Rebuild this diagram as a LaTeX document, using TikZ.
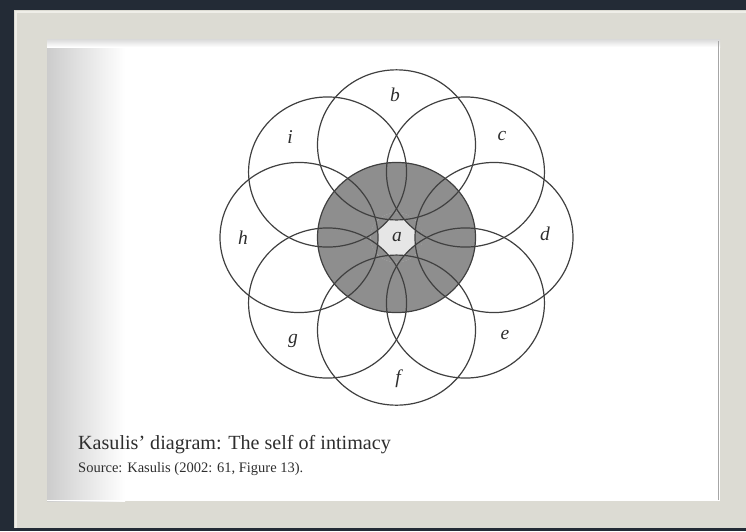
\documentclass[tikz,border=0pt]{standalone}
\usepackage{fontspec}
\setmainfont{Liberation Serif}
\definecolor{bgdark}{HTML}{232B36}
\definecolor{framec}{HTML}{DCDBD3}
\definecolor{framehi}{HTML}{EFEEE8}
\definecolor{ringc}{HTML}{404040}
\definecolor{coregray}{HTML}{8E8E8E}
\definecolor{corelight}{HTML}{E6E6E6}
\definecolor{textc}{HTML}{2E2E2E}
\tikzset{
  ring/.style={draw=ringc, line width=1.2pt},
  lbl/.style={font=\fontsize{19.5}{20}\selectfont\itshape, text=textc, inner sep=0pt},
  captionmain/.style={font=\fontsize{20.1}{22}\selectfont, text=textc, anchor=base west, inner sep=0pt},
  captionsrc/.style={font=\fontsize{14.5}{16}\selectfont, text=textc, anchor=base west, inner sep=0pt}
}
\begin{document}
\begin{tikzpicture}[x=1pt,y=-1pt]
\useasboundingbox (0,0) rectangle (746,531);
% background and frame
\fill[bgdark] (0,0) rectangle (746,531);
\fill[framec] (14,10) rectangle (746,528);
\draw[framehi, line width=1.5pt] (16,528) -- (16,12) -- (746,12);
\fill[white] (47,39) rectangle (720,501);
\shade[left color=black!20, middle color=black!5, right color=white] (47,39) rectangle (125,501);
\shade[top color=black!15, bottom color=white] (47,39) rectangle (720,47);
\draw[black!35, line width=1pt] (718.5,41) -- (718.5,501);
\draw[white, line width=1pt] (47,500.5) -- (720,500.5);
% diagram
\begin{scope}[shift={(396.5,237.5)}, yscale=0.95]
  \coordinate (ca) at (0,0);
  \foreach \n/\ang in {b/90,c/45,d/0,e/-45,f/-90,g/-135,h/180,i/135}{
    \coordinate (c\n) at (\ang:97.5pt);
  }
  \fill[coregray] (ca) circle (79pt);
  \begin{scope}
    \clip (ca) circle (26pt);
    \fill[corelight] (ca) circle (26pt);
    \foreach \n in {b,c,d,e,f,g,h,i}{
      \fill[coregray] (c\n) circle (79pt);
    }
  \end{scope}
  \draw[ring] (ca) circle (79pt);
  \foreach \n in {b,c,d,e,f,g,h,i}{
    \draw[ring] (c\n) circle (79pt);
  }
\end{scope}
% labels
\node[lbl] (la) at (397,237) {a};
\node[lbl] (lb) at (395,95) {b};
\node[lbl] (lc) at (502,136) {c};
\node[lbl] (ld) at (545,234) {d};
\node[lbl] (le) at (505,335) {e};
\node[lbl] (lf) at (398,379) {f};
\node[lbl] (lg) at (293,341) {g};
\node[lbl] (lh) at (243,238) {h};
\node[lbl] (li) at (290,137) {i};
% caption
\node[captionmain] (cap) at (78,449) {Kasulis’ diagram: The self of intimacy};
\node[captionsrc] (src) at (78,472) {Source: Kasulis (2002: 61, Figure 13).};
\end{tikzpicture}
\end{document}
